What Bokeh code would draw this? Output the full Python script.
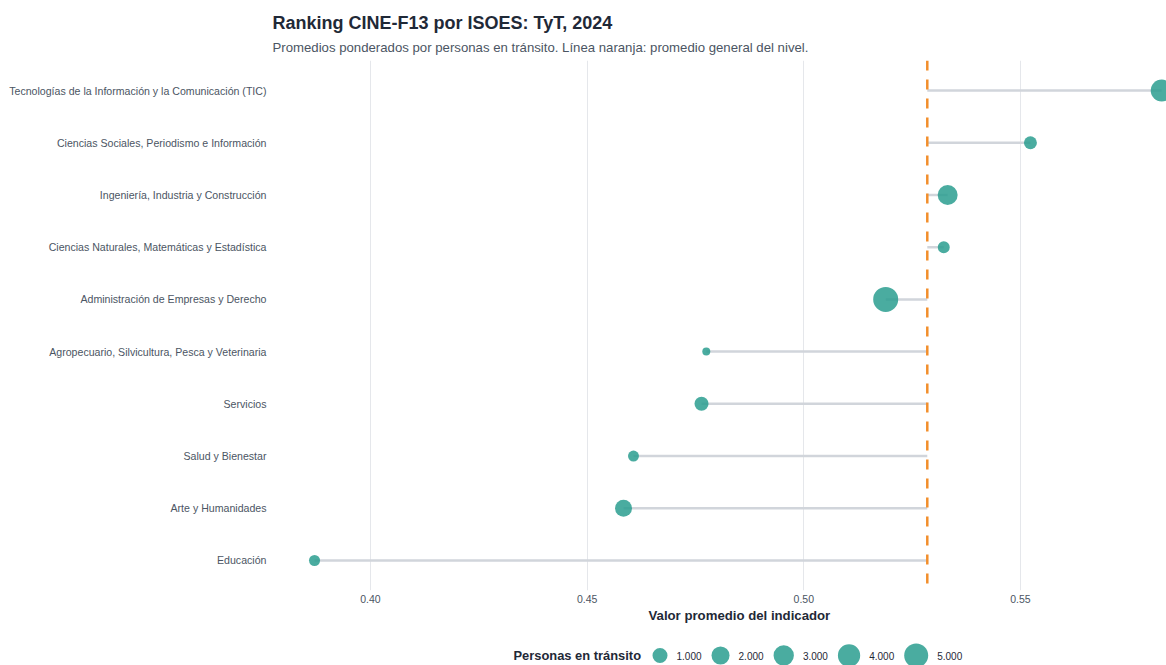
import numpy as np
from bokeh.plotting import figure
from bokeh.models import (ColumnDataSource, Range1d, FactorRange, Span, Title,
                          FixedTicker, NumeralTickFormatter)
from bokeh.layouts import column
from bokeh.embed import file_html
from bokeh.resources import INLINE
from bokeh.core.properties import value

# ---------------- data ----------------
categories = [
    "Tecnologías de la Información y la Comunicación (TIC)",
    "Ciencias Sociales, Periodismo e Información",
    "Ingeniería, Industria y Construcción",
    "Ciencias Naturales, Matemáticas y Estadística",
    "Administración de Empresas y Derecho",
    "Agropecuario, Silvicultura, Pesca y Veterinaria",
    "Servicios",
    "Salud y Bienestar",
    "Arte y Humanidades",
    "Educación",
]
promedio = [0.5826, 0.5523, 0.5332, 0.5323, 0.5189, 0.4775, 0.4764, 0.4607, 0.4584, 0.3871]
personas = [3840, 530, 2830, 360, 5640, 50, 750, 220, 1620, 230]
promedio_general = 0.5285
legend_breaks = [1000, 2000, 3000, 4000, 5000]
legend_labels = ["1.000", "2.000", "3.000", "4.000", "5.000"]
x_ticks = [0.40, 0.45, 0.50, 0.55]

TITLE = "Ranking CINE-F13 por ISOES: TyT, 2024"
SUBTITLE = "Promedios ponderados por personas en tránsito. Línea naranja: promedio general del nivel."
XLABEL = "Valor promedio del indicador"
LEGEND_TITLE = "Personas en tránsito"

# ---------------- style ----------------
FONT = "Liberation Sans"
DOT = "#2A9D8F"
SEG = "#D1D5DB"
ORANGE = "#F28E2B"
DARK = "#1F2937"
GRAY = "#4B5563"
GRID = "#E5E7EB"

W = 1166
FRAME_LEFT = 272
XLABEL_OFFSET = 376   # reference centres the axis title on its wider (cropped) panel
SIZE_MIN, SIZE_MAX = 8, 25
n_lo, n_hi = min(personas), max(personas)


def size_scale(n):
    t = np.clip((np.asarray(n, dtype=float) - n_lo) / (n_hi - n_lo), 0, 1)
    return SIZE_MIN + (SIZE_MAX - SIZE_MIN) * np.sqrt(t)


src = ColumnDataSource(dict(
    cat=categories,
    val=promedio,
    mean=[promedio_general] * len(categories),
    size=size_scale(personas),
))

p = figure(width=W, height=640,
           y_range=FactorRange(factors=categories[::-1], range_padding=0.015),
           x_range=Range1d(0.3774, 0.5837),
           title=None, output_backend="svg", toolbar_location=None,
           min_border_left=FRAME_LEFT, min_border_right=0, min_border_top=60,
           min_border_bottom=50)
p.outline_line_color = None
p.background_fill_color = "white"
p.border_fill_color = "white"

p.add_layout(Title(text=SUBTITLE, text_font=FONT, text_font_size="13.2px",
                   text_font_style="normal", text_color=GRAY, align="left",
                   standoff=12), "above")
p.add_layout(Title(text=TITLE, text_font=FONT, text_font_size="18px",
                   text_font_style="bold", text_color=DARK, align="left",
                   standoff=-2), "above")

p.xaxis.ticker = FixedTicker(ticks=x_ticks)
p.xaxis.formatter = NumeralTickFormatter(format="0.00")
p.xaxis.axis_line_color = None
p.xaxis.major_tick_line_color = None
p.xaxis.major_tick_out = 0
p.xaxis.major_tick_in = 0
p.xaxis.minor_tick_line_color = None
p.xaxis.major_label_text_font = FONT
p.xaxis.major_label_text_font_size = "10.5px"
p.xaxis.major_label_text_color = GRAY
p.xaxis.major_label_standoff = 4

p.add_layout(Title(text=XLABEL, text_font=FONT, text_font_size="13.2px",
                   text_font_style="bold", text_color=DARK, align="left",
                   offset=XLABEL_OFFSET, standoff=0), "below")

p.yaxis.axis_line_color = None
p.yaxis.major_tick_line_color = None
p.yaxis.major_tick_out = 0
p.yaxis.major_tick_in = 0
p.yaxis.minor_tick_line_color = None
p.yaxis.major_label_text_font = FONT
p.yaxis.major_label_text_font_size = "10.6px"
p.yaxis.major_label_text_color = GRAY
p.yaxis.major_label_standoff = 6

p.ygrid.grid_line_color = None
p.xgrid.ticker = FixedTicker(ticks=x_ticks)
p.xgrid.grid_line_color = GRID
p.xgrid.grid_line_width = 1

p.segment(x0="mean", y0="cat", x1="val", y1="cat", source=src,
          line_color=SEG, line_width=2.5)
p.add_layout(Span(location=promedio_general, dimension="height",
                  line_color=ORANGE, line_width=2.5, line_dash="10 9",
                  level="glyph"))
p.scatter(x="val", y="cat", size="size", source=src,
          fill_color=DOT, fill_alpha=0.85, line_color=None)

# ---------------- legend (separate strip, x in page pixels) ----------------
LH = 25
lg = figure(width=W, height=LH, x_range=Range1d(FRAME_LEFT, W), y_range=Range1d(0, LH),
            x_axis_location=None, y_axis_location=None, title=None,
            output_backend="svg", toolbar_location=None, min_border=0,
            min_border_left=FRAME_LEFT, min_border_right=0)
lg.outline_line_color = None
lg.xgrid.grid_line_color = None
lg.ygrid.grid_line_color = None

row_y = 10
title_x = 513
leg_sizes = size_scale(legend_breaks)
cursor = 652
cx, lx = [], []
for d in leg_sizes:
    cx.append(cursor + d / 2)
    lx.append(cursor + d + 9)
    cursor = cursor + d + 9 + 25 + 10

lsrc = ColumnDataSource(dict(cx=cx, lx=lx, y=[row_y] * len(cx),
                             size=leg_sizes, label=legend_labels))
lg.text(x=[title_x], y=[row_y], text=[LEGEND_TITLE], text_font=value(FONT),
        text_font_size="12.9px", text_font_style="bold", text_color=DARK,
        text_baseline="middle", text_align="left")
lg.scatter(x="cx", y="y", size="size", source=lsrc, fill_color=DOT,
           fill_alpha=0.85, line_color=None)
lg.text(x="lx", y="y", text="label", source=lsrc, text_font=value(FONT),
        text_font_size="10px", text_color=DARK, text_baseline="middle",
        text_align="left")

layout = column(p, lg, spacing=0)
open("out.html", "w").write(file_html(layout, INLINE))
